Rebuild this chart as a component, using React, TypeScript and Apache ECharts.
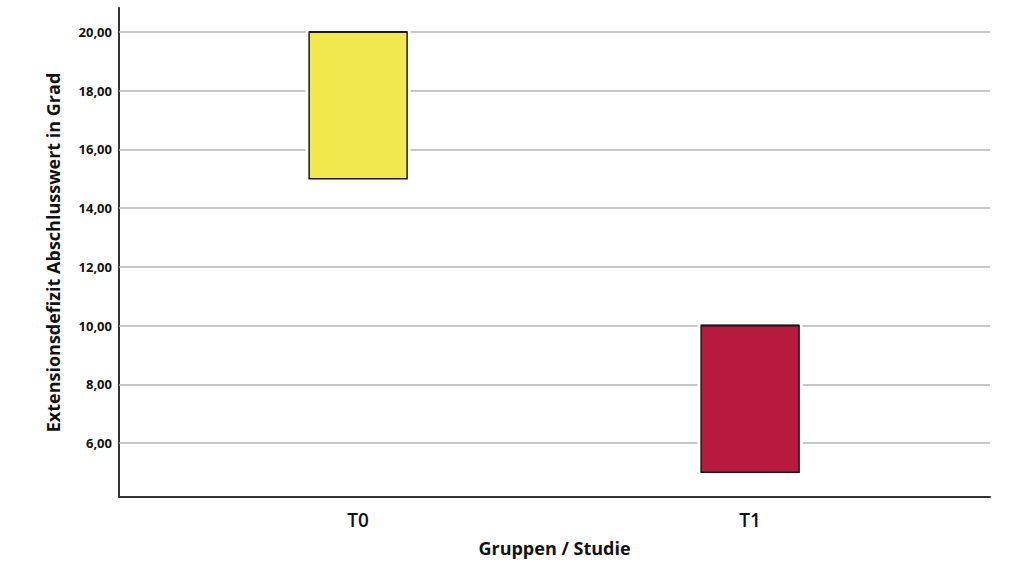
import React, { useEffect, useRef } from "react";
import * as echarts from "echarts";

const categories = ["T0", "T1"];
const q1Values = [15, 5];
const q3Values = [20, 10];
const medianValues = [20, 10];
const yTickValues = [6, 8, 10, 12, 14, 16, 18, 20];
const boxColors = ["#f0e84c", "#b8193f"];

const FONT = "'Open Sans', 'DejaVu Sans', sans-serif";

export default function App() {
  const ref = useRef<HTMLDivElement>(null);
  useEffect(() => {
    if (!ref.current) return;
    const chart = echarts.init(ref.current, null, { renderer: "svg" });
    const data = categories.map((c, i) => [i, q1Values[i], q3Values[i], medianValues[i]]);
    chart.setOption({
      animation: false,
      backgroundColor: "#ffffff",
      grid: { left: 119, right: 34, top: 8, bottom: 79 },
      xAxis: {
        type: "value",
        min: -0.61,
        max: 1.612,
        name: "Gruppen / Studie",
        nameLocation: "middle",
        nameGap: 42,
        nameTextStyle: { fontFamily: FONT, fontSize: 18, fontWeight: "bold", color: "#111" },
        axisLine: { show: true, onZero: false, lineStyle: { color: "#333", width: 2 } },
        axisTick: { show: false },
        splitLine: { show: false },
        axisLabel: {
          customValues: categories.map((_, i) => i),
          formatter: (v: number) => categories[Math.round(v)] ?? "",
          fontFamily: FONT,
          fontSize: 19,
          fontWeight: 600,
          color: "#111",
          margin: 13,
        },
      },
      yAxis: {
        type: "value",
        min: 4.16,
        max: 20.82,
        name: "Extensionsdefizit Abschlusswert in Grad",
        nameLocation: "middle",
        nameGap: 57,
        nameTextStyle: { fontFamily: FONT, fontSize: 18, fontWeight: "bold", color: "#111" },
        axisLine: { show: true, onZero: false, lineStyle: { color: "#333", width: 2 } },
        axisTick: { show: false },
        splitLine: { show: false },
        axisLabel: {
          customValues: yTickValues,
          formatter: (v: number) => v.toFixed(2).replace(".", ","),
          fontFamily: FONT,
          fontSize: 13,
          fontWeight: "bold",
          color: "#111",
          margin: 7,
        },
      },
      series: [
        {
          type: "line",
          data: [],
          z: 1,
          markLine: {
            silent: true,
            symbol: "none",
            label: { show: false },
            lineStyle: { color: "#b4b4b4", width: 1.5, type: "solid" },
            data: yTickValues.map((v) => ({ yAxis: v })),
          },
        },
        {
          type: "custom",
          z: 5,
          data,
          renderItem: (params: any, api: any) => {
            const x = api.value(0);
            const lo = api.value(1);
            const hi = api.value(2);
            const med = api.value(3);
            const halfW = 0.125;
            const p1 = api.coord([x - halfW, hi]);
            const p2 = api.coord([x + halfW, lo]);
            const pm1 = api.coord([x - halfW, med]);
            const pm2 = api.coord([x + halfW, med]);
            const shape = { x: p1[0], y: p1[1], width: p2[0] - p1[0], height: p2[1] - p1[1] };
            return {
              type: "group",
              children: [
                { type: "rect", shape, style: { fill: "none", stroke: "#ffffff", lineWidth: 7 } },
                {
                  type: "rect",
                  shape,
                  style: { fill: boxColors[params.dataIndex], stroke: "#1a1a1a", lineWidth: 1.5 },
                },
                {
                  type: "line",
                  shape: { x1: pm1[0], y1: pm1[1], x2: pm2[0], y2: pm2[1] },
                  style: { stroke: "#1a1a1a", lineWidth: 2 },
                },
              ],
            };
          },
        },
      ],
    });
    return () => chart.dispose();
  }, []);
  return (
    <div
      ref={ref}
      style={{ position: "fixed", left: 0, top: 0, width: 1024, height: 576 }}
    />
  );
}
